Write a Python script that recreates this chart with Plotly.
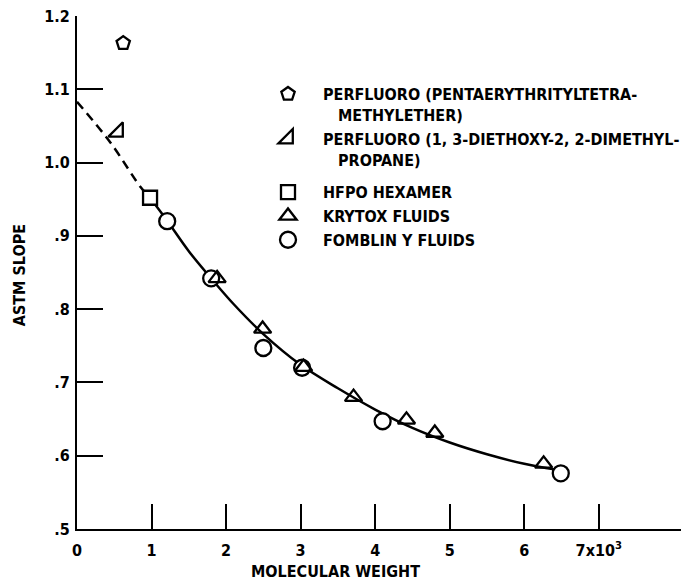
import plotly.graph_objects as go

# ---- data ----
penta_x = [0.62]
penta_y = [1.163]
diethoxy_x = [0.55]
diethoxy_y = [1.042]
hfpo_x = [0.98]
hfpo_y = [0.952]
krytox_x = [1.88, 2.49, 3.04, 3.71, 4.42, 4.80, 6.26]
krytox_y = [0.842, 0.773, 0.721, 0.680, 0.649, 0.631, 0.589]
fomblin_x = [1.21, 1.80, 2.50, 3.02, 4.10, 6.49]
fomblin_y = [0.920, 0.842, 0.747, 0.720, 0.647, 0.576]

dash_x = [0.0, 0.45, 0.85, 0.98]
dash_y = [1.083, 1.027, 0.967, 0.952]
curve_x = [0.98, 1.2, 1.5, 1.8, 2.1, 2.5, 3.0, 3.5, 4.0, 4.5, 5.0, 5.5, 6.0, 6.42]
curve_y = [0.952, 0.922, 0.879, 0.842, 0.807, 0.766, 0.724, 0.692, 0.663, 0.638, 0.618, 0.602, 0.589, 0.581]

x_ticks = [0, 1, 2, 3, 4, 5, 6, 7]
x_ticktext = ["0", "1", "2", "3", "4", "5", "6", "7x10<sup>3</sup>"]
y_ticks = [0.5, 0.6, 0.7, 0.8, 0.9, 1.0, 1.1, 1.2]
y_ticktext = [".5", ".6", ".7", ".8", ".9", "1.0", "1.1", "1.2"]

labels = [
    "PERFLUORO (PENTAERYTHRITYLTETRA-<br>&nbsp;&nbsp;&nbsp;METHYLETHER)",
    "PERFLUORO (1, 3-DIETHOXY-2, 2-DIMETHYL-<br>&nbsp;&nbsp;&nbsp;PROPANE)",
    "HFPO HEXAMER",
    "KRYTOX FLUIDS",
    "FOMBLIN Y FLUIDS",
]

FONT = "DejaVu Sans Condensed, Roboto, sans-serif"
fnt = dict(family=FONT, size=16, color="black", weight="bold")

fig = go.Figure()

fig.add_trace(go.Scatter(x=dash_x, y=dash_y, mode="lines",
                         line=dict(color="black", width=2.5, dash="9px,6px", shape="spline"),
                         showlegend=False, hoverinfo="skip"))
fig.add_trace(go.Scatter(x=curve_x, y=curve_y, mode="lines",
                         line=dict(color="black", width=2.5, shape="spline"),
                         showlegend=False, hoverinfo="skip"))

mk = dict(color="white", size=14, line=dict(color="black", width=2.3))
fig.add_trace(go.Scatter(x=penta_x, y=penta_y, mode="markers", name=labels[0],
                         legendrank=1, legendgroup="a",
                         marker=dict(symbol="pentagon", **mk)))
fig.add_trace(go.Scatter(x=diethoxy_x, y=diethoxy_y, mode="markers", name=labels[1],
                         legendrank=2, legendgroup="a",
                         marker=dict(symbol="triangle-se-open", color="black", size=16,
                                     line=dict(color="black", width=2.3))))
fig.add_trace(go.Scatter(x=hfpo_x, y=hfpo_y, mode="markers", name=labels[2],
                         legendrank=3, legendgroup="b",
                         marker=dict(symbol="square", **mk)))
fig.add_trace(go.Scatter(x=fomblin_x, y=fomblin_y, mode="markers", name=labels[4],
                         legendrank=5, legendgroup="b",
                         marker=dict(symbol="circle", color="white", size=16,
                                     line=dict(color="black", width=2.3))))
fig.add_trace(go.Scatter(x=krytox_x, y=krytox_y, mode="markers", name=labels[3],
                         legendrank=4, legendgroup="b",
                         marker=dict(symbol="triangle-up-open", color="black", size=15,
                                     line=dict(color="black", width=2.3))))

fig.update_layout(
    width=689, height=584,
    margin=dict(l=69, r=11, t=8, b=63, autoexpand=False),
    paper_bgcolor="white", plot_bgcolor="white",
    font=fnt,
    showlegend=True,
    legend=dict(x=0.289, y=0.881, xanchor="left", yanchor="top", font=fnt,
                bgcolor="rgba(0,0,0,0)", itemwidth=60, valign="top",
                traceorder="grouped", tracegroupgap=9, groupclick="toggleitem"),
    xaxis=dict(range=[0, 8.17], tickvals=x_ticks, ticktext=x_ticktext,
               ticks="inside", ticklen=25, tickwidth=2, tickcolor="black",
               showline=True, linewidth=2, linecolor="black", ticklabelstandoff=6,
               ticklabeloverflow="allow",
               showgrid=False, zeroline=False, tickfont=fnt),
    yaxis=dict(range=[0.5, 1.2], tickvals=y_ticks, ticktext=y_ticktext,
               ticks="inside", ticklen=26, tickwidth=2, tickcolor="black",
               showline=True, linewidth=2, linecolor="black", ticklabelstandoff=2,
               ticklabeloverflow="allow",
               showgrid=False, zeroline=False, tickfont=fnt),
    annotations=[
        dict(text="MOLECULAR WEIGHT", xref="paper", yref="paper",
             x=0.424, y=-0.0838, xanchor="center", yanchor="middle",
             showarrow=False, font=fnt),
        dict(text="ASTM SLOPE", xref="paper", yref="paper", textangle=-90,
             x=-0.095, y=0.495, xanchor="center", yanchor="middle",
             showarrow=False, font=fnt),
    ],
)

fig.write_html("out.html")
